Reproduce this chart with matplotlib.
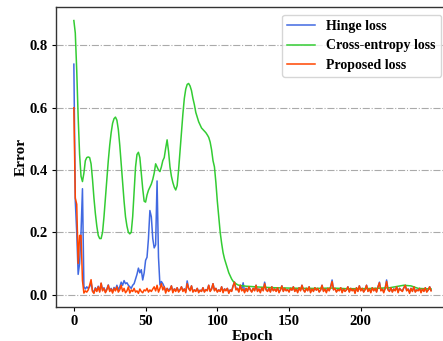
import matplotlib
matplotlib.use('Agg')
import matplotlib.pyplot as plt
import numpy as np

# Training error curves

# Hinge loss, one value per epoch (0..249)
hinge = [
    0.74, 0.30, 0.20, 0.065, 0.10, 0.20, 0.34, 0.026, 0.018, 0.025,
    0.02, 0.025, 0.04, 0.013, 0.008, 0.022, 0.013, 0.027, 0.011, 0.036,
    0.015, 0.022, 0.009, 0.018, 0.031, 0.013, 0.02, 0.009, 0.023, 0.015,
    0.03, 0.015, 0.025, 0.04, 0.03, 0.045, 0.035, 0.038, 0.03, 0.025,
    0.02, 0.03, 0.035, 0.05, 0.065, 0.085, 0.07, 0.08, 0.047, 0.07,
    0.11, 0.12, 0.18, 0.27, 0.25, 0.18, 0.15, 0.16, 0.365, 0.12,
    0.031, 0.042, 0.035, 0.025, 0.012, 0.02, 0.015, 0.018, 0.028, 0.01,
    0.018, 0.015, 0.022, 0.012, 0.015, 0.025, 0.014, 0.018, 0.01, 0.044,
    0.02, 0.015, 0.028, 0.01, 0.015, 0.012, 0.02, 0.01, 0.014, 0.012,
    0.022, 0.01, 0.016, 0.015, 0.03, 0.012, 0.018, 0.035, 0.015, 0.02,
    0.01, 0.015, 0.012, 0.025, 0.01, 0.018, 0.015, 0.02, 0.008, 0.015,
    0.012, 0.028, 0.04, 0.018, 0.02, 0.01, 0.03, 0.015, 0.038, 0.01,
    0.02, 0.012, 0.025, 0.016, 0.01, 0.02, 0.014, 0.03, 0.012, 0.018,
    0.01, 0.022, 0.014, 0.04, 0.016, 0.012, 0.02, 0.01, 0.025, 0.014,
    0.018, 0.012, 0.022, 0.01, 0.015, 0.028, 0.012, 0.02, 0.014, 0.016,
    0.01, 0.02, 0.015, 0.025, 0.012, 0.018, 0.01, 0.022, 0.014, 0.03,
    0.016, 0.01, 0.02, 0.014, 0.025, 0.01, 0.018, 0.012, 0.022, 0.015,
    0.02, 0.01, 0.015, 0.03, 0.012, 0.018, 0.01, 0.02, 0.014, 0.025,
    0.047, 0.016, 0.02, 0.01, 0.016, 0.014, 0.022, 0.01, 0.018, 0.012,
    0.015, 0.025, 0.01, 0.02, 0.014, 0.018, 0.008, 0.022, 0.012, 0.028,
    0.014, 0.02, 0.01, 0.016, 0.03, 0.012, 0.018, 0.01, 0.022, 0.014,
    0.02, 0.01, 0.025, 0.04, 0.014, 0.018, 0.01, 0.02, 0.047, 0.016,
    0.012, 0.022, 0.01, 0.018, 0.014, 0.025, 0.01, 0.02, 0.015, 0.012,
    0.022, 0.03, 0.014, 0.018, 0.008, 0.02, 0.012, 0.025, 0.01, 0.015,
    0.014, 0.02, 0.01, 0.018, 0.012, 0.022, 0.01, 0.015, 0.025, 0.014,
]

# Proposed loss, one value per epoch (0..249)
proposed = [
    0.60, 0.31, 0.29, 0.10, 0.19, 0.19, 0.045, 0.005, 0.012, 0.008,
    0.015, 0.03, 0.048, 0.01, 0.004, 0.02, 0.01, 0.025, 0.008, 0.037,
    0.012, 0.02, 0.006, 0.015, 0.03, 0.01, 0.018, 0.005, 0.02, 0.012,
    0.025, 0.008, 0.015, 0.03, 0.01, 0.02, 0.006, 0.012, 0.025, 0.005,
    0.015, 0.01, 0.02, 0.008, 0.012, 0.004, 0.018, 0.01, 0.006, 0.015,
    0.012, 0.02, 0.008, 0.015, 0.01, 0.018, 0.025, 0.012, 0.03, 0.008,
    0.02, 0.035, 0.015, 0.025, 0.005, 0.02, 0.01, 0.015, 0.028, 0.006,
    0.018, 0.01, 0.022, 0.008, 0.015, 0.025, 0.01, 0.018, 0.006, 0.035,
    0.02, 0.012, 0.028, 0.008, 0.015, 0.01, 0.02, 0.006, 0.014, 0.01,
    0.022, 0.008, 0.016, 0.012, 0.03, 0.01, 0.018, 0.035, 0.012, 0.02,
    0.008, 0.015, 0.01, 0.025, 0.006, 0.018, 0.012, 0.02, 0.004, 0.015,
    0.01, 0.028, 0.04, 0.015, 0.02, 0.008, 0.03, 0.012, 0.018, 0.006,
    0.02, 0.01, 0.025, 0.015, 0.008, 0.02, 0.012, 0.03, 0.01, 0.018,
    0.006, 0.022, 0.012, 0.035, 0.015, 0.01, 0.02, 0.008, 0.025, 0.012,
    0.018, 0.01, 0.022, 0.006, 0.015, 0.028, 0.01, 0.02, 0.012, 0.016,
    0.008, 0.02, 0.014, 0.025, 0.01, 0.018, 0.006, 0.022, 0.012, 0.03,
    0.015, 0.008, 0.02, 0.012, 0.025, 0.006, 0.018, 0.01, 0.022, 0.014,
    0.02, 0.008, 0.015, 0.03, 0.01, 0.018, 0.006, 0.02, 0.012, 0.025,
    0.042, 0.015, 0.02, 0.008, 0.016, 0.012, 0.022, 0.006, 0.018, 0.01,
    0.015, 0.025, 0.008, 0.02, 0.012, 0.018, 0.004, 0.022, 0.01, 0.028,
    0.012, 0.02, 0.008, 0.016, 0.03, 0.01, 0.018, 0.006, 0.022, 0.012,
    0.02, 0.008, 0.025, 0.038, 0.012, 0.018, 0.006, 0.02, 0.042, 0.015,
    0.01, 0.022, 0.008, 0.018, 0.012, 0.025, 0.006, 0.02, 0.014, 0.01,
    0.022, 0.03, 0.012, 0.018, 0.004, 0.02, 0.01, 0.025, 0.008, 0.015,
    0.012, 0.02, 0.006, 0.018, 0.01, 0.022, 0.008, 0.015, 0.025, 0.012,
]

# Cross-entropy loss (smooth curve), sampled at these epochs
ce_epochs = list(range(0, 116)) + [120, 130, 140, 150, 160, 170, 180, 190,
                                   200, 210, 220, 225, 230, 235, 240, 249]
ce_loss = [
    0.88, 0.84, 0.72, 0.57, 0.45, 0.38, 0.363, 0.39, 0.43, 0.44,
    0.442, 0.44, 0.42, 0.37, 0.31, 0.26, 0.22, 0.19, 0.18, 0.18,
    0.20, 0.25, 0.31, 0.37, 0.43, 0.48, 0.52, 0.55, 0.565, 0.57,
    0.56, 0.53, 0.48, 0.42, 0.36, 0.30, 0.25, 0.22, 0.20, 0.195,
    0.20, 0.25, 0.33, 0.41, 0.45, 0.457, 0.44, 0.39, 0.34, 0.30,
    0.297, 0.32, 0.335, 0.345, 0.355, 0.37, 0.39, 0.42, 0.41, 0.40,
    0.395, 0.41, 0.43, 0.44, 0.47, 0.497, 0.46, 0.41, 0.38, 0.36,
    0.345, 0.336, 0.35, 0.40, 0.46, 0.52, 0.58, 0.63, 0.66, 0.675,
    0.678, 0.67, 0.655, 0.63, 0.61, 0.585, 0.57, 0.555, 0.545, 0.535,
    0.53, 0.525, 0.52, 0.513, 0.505, 0.49, 0.465, 0.43, 0.41, 0.36,
    0.30, 0.25, 0.20, 0.165, 0.135, 0.115, 0.10, 0.085, 0.07, 0.06,
    0.05, 0.043, 0.038, 0.035, 0.032, 0.03,
    0.027, 0.024, 0.022, 0.021, 0.02, 0.02, 0.021, 0.019,
    0.019, 0.02, 0.022, 0.026, 0.03, 0.028, 0.02, 0.018,
]

epochs = np.arange(len(proposed))

plt.rcParams['font.family'] = 'Liberation Serif'
plt.rcParams['font.weight'] = 'bold'
plt.rcParams['font.size'] = 10.5

fig = plt.figure(figsize=(4.43, 3.41), dpi=100)
ax = fig.add_axes([0.1264, 0.0997, 0.887, 0.880])

ax.plot(epochs, hinge, color='#4169e1', lw=1.1, label='Hinge loss')
ax.plot(ce_epochs, ce_loss, color='#33cc33', lw=1.1, label='Cross-entropy loss')
ax.plot(epochs, proposed, color='#ff4500', lw=1.1, label='Proposed loss')

ax.yaxis.grid(True, linestyle='-.', color='#aaaaaa', lw=0.8)
ax.set_axisbelow(True)

ax.set_xticks([0, 50, 100, 150, 200])
ax.set_yticks([0.0, 0.2, 0.4, 0.6, 0.8])
ax.tick_params(length=3, pad=3)
for s in ax.spines.values():
    s.set_color('#333333')
    s.set_linewidth(1.0)

ax.set_xlabel('Epoch', fontweight='bold', fontsize=11, labelpad=1.5)
ax.set_ylabel('Error', fontweight='bold', fontsize=11, labelpad=1)

leg = ax.legend(loc='upper right', prop={'family': 'Liberation Serif', 'weight': 'bold', 'size': 10},
                handlelength=2.0, labelspacing=0.45, borderaxespad=0.55)
leg.get_frame().set_edgecolor('#cccccc')

fig.savefig('out.png', dpi=100)
